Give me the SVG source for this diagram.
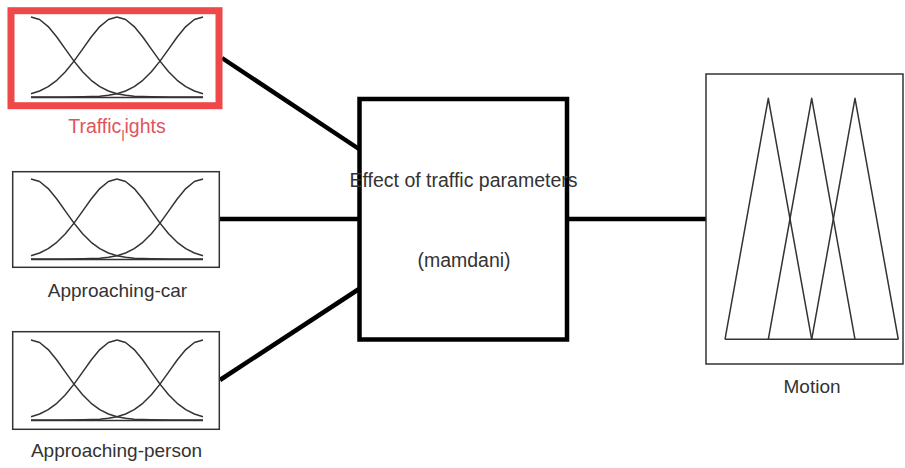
<svg xmlns="http://www.w3.org/2000/svg" xmlns:xlink="http://www.w3.org/1999/xlink" width="905" height="468" viewBox="0 0 905 468">
<style>
.mf{fill:none;stroke:#333;stroke-width:1.5;stroke-linejoin:round}
.box{fill:#fff;stroke:#333;stroke-width:1.5}
.lbl{font-family:"Liberation Sans",Arial,sans-serif;font-size:19px;fill:#333;text-anchor:middle}
.conn{stroke:#000;stroke-width:4.5;fill:none}
</style>
<defs>
<path id="halfL" d="M0,0 L8.6,2.5 L17.2,9.6 L25.8,20 L34.4,32.1 L43,44.1 L51.6,54.7 L60.2,63.3 L68.8,69.7 L77.4,74 L86,76.7 L94.6,78.3 L103.2,79.2 L111.8,79.6 L120.4,79.85 L140,80 L172,80"/>
<path id="halfS" d="M0,0 L8.6,2.5 L17.2,9.6 L25.8,20 L34.4,32.1 L43,44.1 L51.6,54.7 L60.2,63.3 L68.8,69.7 L77.4,74 L86,76.7"/>
<g id="mfs">
<use xlink:href="#halfL" href="#halfL" class="mf"/>
<use xlink:href="#halfS" href="#halfS" class="mf" transform="translate(86,0)"/>
<use xlink:href="#halfS" href="#halfS" class="mf" transform="translate(86,0) scale(-1,1)"/>
<use xlink:href="#halfL" href="#halfL" class="mf" transform="translate(172,0) scale(-1,1)"/>
<line x1="0" y1="80.5" x2="172" y2="80.5" class="mf"/>
</g>
</defs>
<g id="connectors">
<line class="conn" x1="222" y1="58" x2="359" y2="149"/>
<line class="conn" x1="219" y1="219" x2="359" y2="219"/>
<line class="conn" x1="220" y1="380" x2="359" y2="289"/>
<line class="conn" x1="567" y1="219" x2="706" y2="219"/>
</g>
<g id="traffic_lights">
<rect x="11" y="10.7" width="208" height="95" fill="#fff" stroke="#ef4848" stroke-width="7"/>
<use xlink:href="#mfs" href="#mfs" transform="translate(31,17)"/>
<text class="lbl" x="117" y="133" style="fill:#e2545c;font-size:19.5px">Traffic<tspan font-size="14" dy="8">l</tspan><tspan dy="-8">ights</tspan></text>
</g>
<g id="approaching_car">
<rect class="box" x="12.7" y="171.7" width="206.6" height="95.6"/>
<use xlink:href="#mfs" href="#mfs" transform="translate(31,179)"/>
<text class="lbl" x="117.5" y="297">Approaching-car</text>
</g>
<g id="approaching_person">
<rect class="box" x="12.7" y="331.7" width="206.6" height="97.6"/>
<use xlink:href="#mfs" href="#mfs" transform="translate(31,340)"/>
<text class="lbl" x="116.5" y="456.5">Approaching-person</text>
</g>
<g id="mamdani">
<rect x="359.5" y="99" width="207.5" height="240.5" fill="none" stroke="#000" stroke-width="4.5"/>
<text class="lbl" x="463.5" y="187" style="font-size:19.5px">Effect of traffic parameters</text>
<text class="lbl" x="464" y="267" style="font-size:19.5px">(mamdani)</text>
</g>
<g id="motion">
<rect class="box" x="706" y="74" width="197" height="290"/>
<polyline class="mf" points="725,339.3 768.3,98.3 811.7,339.3"/>
<polyline class="mf" points="768.3,339.3 811.7,98.3 855,339.3"/>
<polyline class="mf" points="811.7,339.3 855,98.3 898.3,339.3"/>
<line class="mf" x1="725" y1="339.3" x2="898.3" y2="339.3"/>
<text class="lbl" x="812" y="393">Motion</text>
</g>
</svg>
